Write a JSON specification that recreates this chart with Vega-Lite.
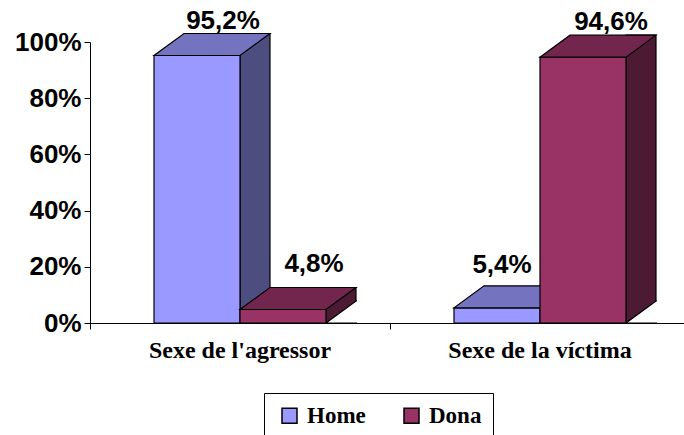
{
  "$schema": "https://vega.github.io/schema/vega-lite/v6.json",
  "width": 594,
  "height": 281,
  "autosize": {"type": "none"},
  "padding": {"left": 90, "top": 42, "right": 0, "bottom": 112},
  "background": "white",
  "config": {
    "view": {"stroke": null},
    "locale": {"number": {"decimal": ",", "thousands": ".", "grouping": [3], "currency": ["", " €"]}}
  },
  "data": {
    "values": [
      {"group": "Sexe de l'agressor", "sex": "Home", "value": 0.952},
      {"group": "Sexe de l'agressor", "sex": "Dona", "value": 0.048},
      {"group": "Sexe de la víctima", "sex": "Home", "value": 0.054},
      {"group": "Sexe de la víctima", "sex": "Dona", "value": 0.946}
    ]
  },
  "encoding": {
    "x": {
      "field": "group", "type": "nominal",
      "sort": ["Sexe de l'agressor", "Sexe de la víctima"],
      "scale": {"range": [0, 600], "paddingInner": 0, "paddingOuter": 0},
      "axis": {
        "title": null, "bandPosition": 0, "labelOffset": 0, "labelAngle": 0,
        "labelFont": "Liberation Serif", "labelFontWeight": "bold", "labelFontSize": 24,
        "labelColor": "black", "labelBaseline": "alphabetic", "labelPadding": 28,
        "labelLimit": 400, "labelOverlap": false,
        "domainColor": "black", "domainWidth": 1, "tickColor": "black", "tickSize": 6, "tickWidth": 1,
        "grid": false, "zindex": 1
      }
    },
    "y": {
      "field": "value", "type": "quantitative",
      "scale": {"domain": [0, 1], "nice": false},
      "axis": {
        "title": null, "values": [0, 0.2, 0.4, 0.6, 0.8, 1], "format": ".0%",
        "labelFont": "Liberation Sans", "labelFontWeight": "bold", "labelFontSize": 26,
        "labelColor": "black", "labelPadding": 3, "labelFlush": false, "labelOverlap": false,
        "domainColor": "black", "domainWidth": 1, "tickColor": "black", "tickSize": 6, "tickWidth": 1,
        "grid": false, "zindex": 1
      }
    }
  },
  "layer": [
    {
      "transform": [{"filter": "datum.sex === 'Home'"}],
      "mark": {"type": "bar", "width": 30, "xOffset": 15, "yOffset": -22, "y2Offset": 0, "fill": "#4D4D80", "stroke": "black", "strokeWidth": 1.2},
      "encoding": {"y2": {"datum": 0}}
    },
    {
      "transform": [{"filter": "datum.sex === 'Home'"}],
      "mark": {"type": "point", "shape": "M74,0L43,0L73,-22L74,-22", "size": 4, "filled": true, "fill": "white", "stroke": "black", "strokeWidth": 1.2, "opacity": 1, "xOffset": -43},
      "encoding": {"y": {"datum": 0}}
    },
    {
      "transform": [{"filter": "datum.sex === 'Home'"}],
      "mark": {"type": "bar", "width": 86, "xOffset": -43, "stroke": "black", "strokeWidth": 1.2},
      "encoding": {
        "color": {
          "field": "sex", "type": "nominal",
          "scale": {"domain": ["Home", "Dona"], "range": ["#9999FF", "#993366"]},
          "legend": {
            "title": null, "orient": "none", "legendX": 174, "legendY": 351, "direction": "horizontal",
            "symbolType": "square", "symbolSize": 225, "symbolStrokeColor": "black", "symbolStrokeWidth": 1.5,
            "symbolOffset": 3, "labelFont": "Liberation Serif", "labelFontWeight": "bold", "labelFontSize": 23,
            "labelColor": "black", "labelOffset": 6, "columnPadding": 31, "padding": 11,
            "strokeColor": "black", "fillColor": "white", "labelLimit": 200
          }
        }
      }
    },
    {
      "transform": [{"filter": "datum.sex === 'Home'"}],
      "mark": {"type": "point", "shape": "M-43,0L43,0L73,-22L-13,-22Z", "size": 4, "filled": true, "fill": "#7373BF", "stroke": "black", "strokeWidth": 1.2, "opacity": 1, "xOffset": -43}
    },
    {
      "transform": [{"filter": "datum.sex === 'Dona'"}],
      "mark": {"type": "bar", "width": 30, "xOffset": 101, "yOffset": -22, "y2Offset": 0, "fill": "#4D1A33", "stroke": "black", "strokeWidth": 1.2},
      "encoding": {"y2": {"datum": 0}}
    },
    {
      "transform": [{"filter": "datum.sex === 'Dona'"}],
      "mark": {"type": "point", "shape": "M74,0L43,0L73,-22L74,-22", "size": 4, "filled": true, "fill": "white", "stroke": "black", "strokeWidth": 1.2, "opacity": 1, "xOffset": 43},
      "encoding": {"y": {"datum": 0}}
    },
    {
      "transform": [{"filter": "datum.sex === 'Dona'"}],
      "mark": {"type": "bar", "width": 86, "xOffset": 43, "stroke": "black", "strokeWidth": 1.2},
      "encoding": {
        "color": {"field": "sex", "type": "nominal", "scale": {"domain": ["Home", "Dona"], "range": ["#9999FF", "#993366"]}}
      }
    },
    {
      "transform": [{"filter": "datum.sex === 'Dona'"}],
      "mark": {"type": "point", "shape": "M-43,0L43,0L73,-22L-13,-22Z", "size": 4, "filled": true, "fill": "#73264D", "stroke": "black", "strokeWidth": 1.2, "opacity": 1, "xOffset": 43}
    },
    {
      "transform": [{"filter": "datum.sex === 'Home' && datum.group === \"Sexe de l'agressor\""}],
      "mark": {"type": "text", "dx": -17, "dy": -26, "align": "center", "baseline": "alphabetic", "font": "Liberation Sans", "fontWeight": "bold", "fontSize": 26, "color": "black"},
      "encoding": {"text": {"field": "value", "type": "quantitative", "format": ".1%"}}
    },
    {
      "transform": [{"filter": "datum.sex === 'Home' && datum.group === 'Sexe de la víctima'"}],
      "mark": {"type": "text", "dx": -38, "dy": -35, "align": "center", "baseline": "alphabetic", "font": "Liberation Sans", "fontWeight": "bold", "fontSize": 26, "color": "black"},
      "encoding": {"text": {"field": "value", "type": "quantitative", "format": ".1%"}}
    },
    {
      "transform": [{"filter": "datum.sex === 'Dona' && datum.group === \"Sexe de l'agressor\""}],
      "mark": {"type": "text", "dx": 74, "dy": -38, "align": "center", "baseline": "alphabetic", "font": "Liberation Sans", "fontWeight": "bold", "fontSize": 26, "color": "black"},
      "encoding": {"text": {"field": "value", "type": "quantitative", "format": ".1%"}}
    },
    {
      "transform": [{"filter": "datum.sex === 'Dona' && datum.group === 'Sexe de la víctima'"}],
      "mark": {"type": "text", "dx": 71, "dy": -27, "align": "center", "baseline": "alphabetic", "font": "Liberation Sans", "fontWeight": "bold", "fontSize": 26, "color": "black"},
      "encoding": {"text": {"field": "value", "type": "quantitative", "format": ".1%"}}
    }
  ]
}
